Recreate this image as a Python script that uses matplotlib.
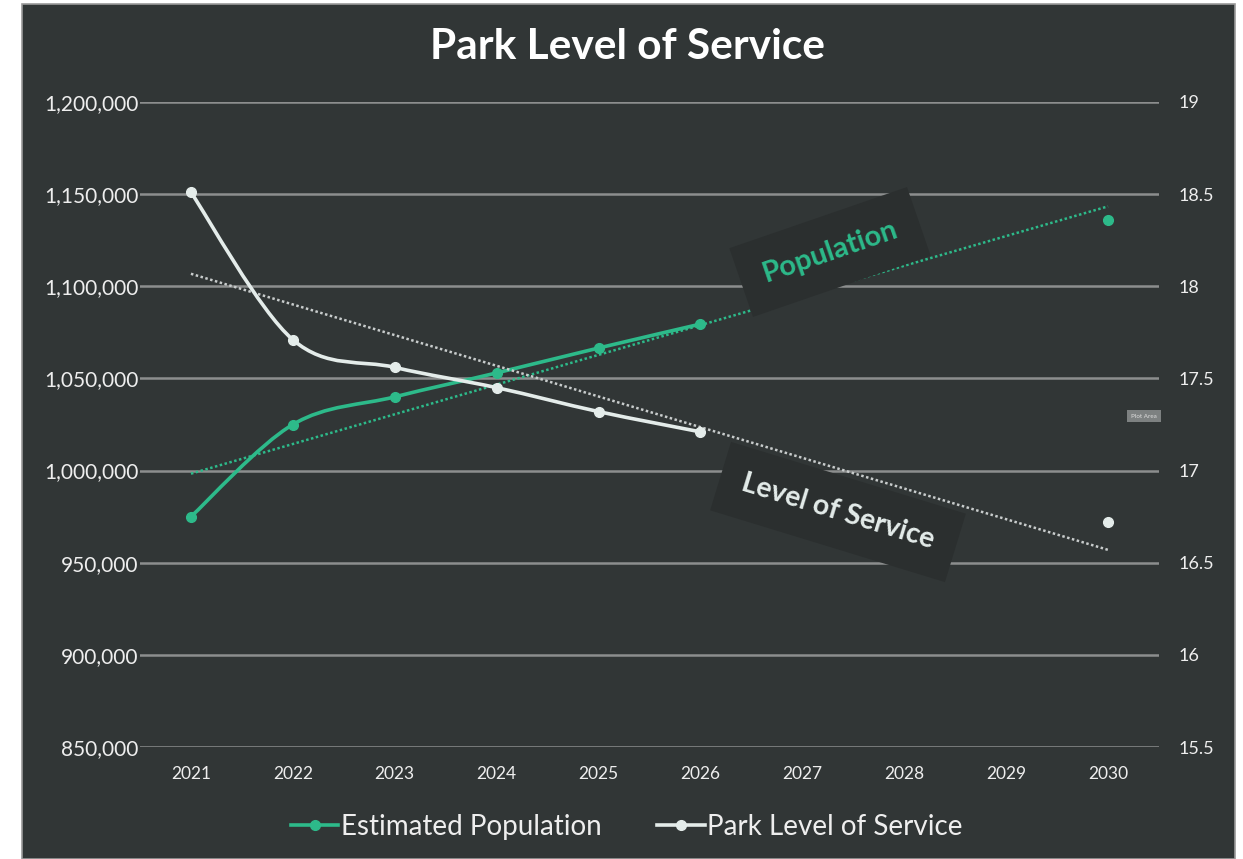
import numpy as np
import matplotlib
matplotlib.use("Agg")
import matplotlib.pyplot as plt
from matplotlib.path import Path
from matplotlib.patches import PathPatch, Rectangle
from matplotlib.lines import Line2D

# ---- data ----
years = [2021, 2022, 2023, 2024, 2025, 2026, 2027, 2028, 2029, 2030]
pop_years = [2021, 2022, 2023, 2024, 2025, 2026]
pop_values = [975000, 1025000, 1040000, 1053000, 1066500, 1079500]
pop_2030 = 1136000
los_values = [18.51, 17.71, 17.56, 17.45, 17.32, 17.21]
los_2030 = 16.72
left_ticks = [850000, 900000, 950000, 1000000, 1050000, 1100000, 1150000, 1200000]
right_ticks = [15.5, 16, 16.5, 17, 17.5, 18, 18.5, 19]

BG = "#313636"
GREEN = "#2dba8a"
WHITE = "#e4ecea"
GRID = "#8c8e8e"
TXT = "#eeeeee"
BOX = "#2b2f2f"
FONT = ["Lato", "DejaVu Sans"]
plt.rcParams["font.family"] = FONT

W, H = 1243, 859
fig = plt.figure(figsize=(W / 100, H / 100), dpi=100)
fig.patch.set_facecolor("white")
# dark chart area
fig.add_artist(Rectangle((22 / W, 0), (1235 - 22) / W, 1 - 4 / H, transform=fig.transFigure,
                         facecolor=BG, edgecolor="#9a9a9a", linewidth=1.2, zorder=0))

ax = fig.add_axes([140 / W, 1 - 747 / H, (1159 - 140) / W, (747 - 102) / H])
ax.set_facecolor("none")
ax.set_xlim(2020.5, 2030.5)
ax.set_ylim(850000, 1200000)
ax2 = ax.twinx()
ax2.set_ylim(15.5, 19)
for a in (ax, ax2):
    for s in a.spines.values():
        s.set_visible(False)

ax.set_yticks(left_ticks)
ax.set_yticklabels([f"{v:,}" for v in left_ticks])
ax2.set_yticks(right_ticks)
ax2.set_yticklabels([f"{v:g}" for v in right_ticks])
ax.set_xticks(years)
ax.set_xticklabels([str(y) for y in years])
ax.tick_params(axis="y", length=0, pad=1, labelsize=15, labelcolor=TXT)
ax.tick_params(axis="x", length=0, pad=14, labelsize=12.5, labelcolor=TXT)
ax2.tick_params(axis="y", length=0, pad=14, labelsize=13, labelcolor=TXT)
ax.grid(axis="y", color=GRID, linewidth=1.8)
ax.grid(axis="x", visible=False)
ax.set_axisbelow(True)


def smooth_path(xs, ys):
    xs = np.asarray(xs, float)
    ys = np.asarray(ys, float)
    n = len(xs)
    verts = [(xs[0], ys[0])]
    codes = [Path.MOVETO]
    for i in range(n - 1):
        p0 = np.array([xs[max(i - 1, 0)], ys[max(i - 1, 0)]])
        p1 = np.array([xs[i], ys[i]])
        p2 = np.array([xs[i + 1], ys[i + 1]])
        p3 = np.array([xs[min(i + 2, n - 1)], ys[min(i + 2, n - 1)]])
        c1 = p1 + (p2 - p0) / 6.0
        c2 = p2 - (p3 - p1) / 6.0
        verts += [tuple(c1), tuple(c2), tuple(p2)]
        codes += [Path.CURVE4] * 3
    return Path(verts, codes)


# trendlines (linear fits on all points)
px_all = np.array(pop_years + [2030], float)
py_all = np.array(pop_values + [pop_2030], float)
ly_all = np.array(los_values + [los_2030], float)
xt = np.array([years[0], years[-1]], float)
pc = np.polyfit(px_all, py_all, 1)
lc = np.polyfit(px_all, ly_all, 1)

# annotation labels (drawn under the lines)
fig.text(830 / W, 1 - 252 / H, "Population", rotation=19, ha="center", va="center",
         fontsize=21, fontweight="bold", color=GREEN,
         bbox=dict(boxstyle="square,pad=0.8", facecolor=BOX, edgecolor="none"), zorder=1)
fig.text(838 / W, 1 - 512 / H, "Level of Service", rotation=-17, ha="center", va="center",
         fontsize=20.5, fontweight="bold", color=WHITE,
         bbox=dict(boxstyle="square,pad=0.8", facecolor=BOX, edgecolor="none"), zorder=1)

ax.plot(xt, np.polyval(pc, xt), color=GREEN, linestyle=(0, (1, 1)), linewidth=1.8, zorder=2)
ax2.plot(xt, np.polyval(lc, xt), color="#c8cccc", linestyle=(0, (1, 1)), linewidth=1.8, zorder=2)

# smoothed series
ax.add_patch(PathPatch(smooth_path(pop_years, pop_values), facecolor="none",
                       edgecolor=GREEN, linewidth=2.6, zorder=3))
ax.plot(pop_years + [2030], pop_values + [pop_2030], linestyle="none", marker="o",
        markersize=7, color=GREEN, zorder=4)
ax2.add_patch(PathPatch(smooth_path(pop_years, los_values), facecolor="none",
                        edgecolor=WHITE, linewidth=2.6, zorder=3))
ax2.plot(pop_years + [2030], los_values + [los_2030], linestyle="none", marker="o",
         markersize=7, color=WHITE, zorder=4)

# tiny "Plot Area" tooltip
fig.text(1144 / W, 1 - 416 / H, "Plot Area", ha="center", va="center", fontsize=4.5,
         color="#dddddd", bbox=dict(boxstyle="square,pad=0.6", facecolor="#7d8181", edgecolor="none"))

# title
fig.text(627 / W, 1 - 47 / H, "Park Level of Service", ha="center", va="center",
         fontsize=30.5, fontweight="bold", color="white")

# legend
handles = [Line2D([], [], color=GREEN, linewidth=2.6, marker="o", markersize=7),
           Line2D([], [], color=WHITE, linewidth=2.6, marker="o", markersize=7)]
leg = fig.legend(handles, ["Estimated Population", "Park Level of Service"],
                 loc="center", bbox_to_anchor=(627 / W, 1 - 827 / H), ncol=2, frameon=False,
                 fontsize=20, labelcolor=TXT, handlelength=1.7, handletextpad=0.1,
                 columnspacing=2.0)

fig.savefig("out.png", dpi=100, facecolor=fig.get_facecolor())
